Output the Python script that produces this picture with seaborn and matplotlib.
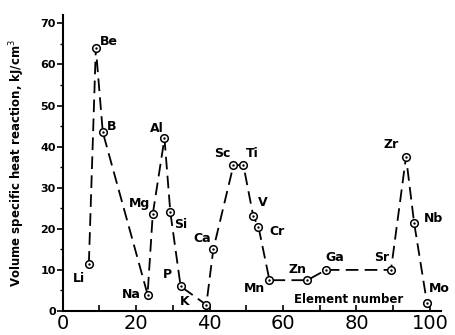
import matplotlib
matplotlib.use("Agg")
import matplotlib.pyplot as plt
import seaborn as sns
import pandas as pd

elements = ["Li", "Be", "B", "Na", "Mg", "Al", "Si", "P", "K", "Ca", "Sc", "Ti",
            "V", "Cr", "Mn", "Zn", "Ga", "Sr", "Zr", "Nb", "Mo"]
element_x = [7.1, 9.0, 10.9, 23.1, 24.5, 27.7, 29.3, 32.1, 39.1, 41.0, 46.5, 49.2,
             51.9, 53.3, 56.3, 66.6, 71.7, 89.4, 93.5, 95.7, 99.2]
heat = [11.5, 64.0, 43.5, 4.0, 23.5, 42.0, 24.0, 6.0, 1.5, 15.0, 35.5, 35.5,
        23.0, 20.5, 7.5, 7.5, 10.0, 10.0, 37.5, 21.5, 2.0]
x_ticks = [0, 20, 40, 60, 80, 100]
y_ticks = [0, 10, 20, 30, 40, 50, 60, 70]

# label offsets in pixels (style only)
label_offsets = {"Li": (-10, -15), "Be": (13, 6), "B": (9, 6), "Na": (-16, 0),
                 "Mg": (-13, 11), "Al": (-8, 10), "Si": (10, -12), "P": (-13, 12),
                 "K": (-22, 3), "Ca": (-11, 11), "Sc": (-11, 12), "Ti": (9, 12),
                 "V": (9, 14), "Cr": (19, -5), "Mn": (-15, -8), "Zn": (-10, 11),
                 "Ga": (9, 12), "Sr": (-9, 12), "Zr": (-15, 12), "Nb": (19, 4),
                 "Mo": (12, 14)}

df = pd.DataFrame({"element": elements, "x": element_x, "y": heat})

sns.set_style("ticks")
plt.rcParams['font.family'] = ['DejaVu Sans']
plt.rcParams['text.color'] = 'black'
plt.rcParams['xtick.color'] = 'black'
plt.rcParams['ytick.color'] = 'black'
plt.rcParams['axes.labelcolor'] = 'black'

fig = plt.figure(figsize=(4.55, 3.35), dpi=100)
ax = fig.add_axes([0.138, 0.0716, 0.831, 0.8834])

sns.lineplot(data=df, x="x", y="y", sort=False, color="black", linewidth=1.3,
             ax=ax, estimator=None)
ax.lines[0].set_dashes((7, 3.5))
sns.scatterplot(data=df, x="x", y="y", s=30, facecolor="white", edgecolor="black",
                linewidth=1.1, ax=ax, zorder=3)
sns.scatterplot(data=df, x="x", y="y", s=3, color="black", linewidth=0, ax=ax, zorder=4)

for name, xv, yv in zip(elements, element_x, heat):
    dx, dy = label_offsets[name]
    ax.annotate(name, (xv, yv), xytext=(dx, dy), textcoords="offset pixels",
                ha="center", va="center", fontsize=9, fontweight="bold", color="black")

ax.text(78, 2.8, "Element number", ha="center", va="center", fontsize=8.5,
        fontweight="bold", color="black")

ax.set_xlim(0, 103)
ax.set_ylim(0, 72)
ax.set_xticks(x_ticks)
ax.set_xticklabels([str(t) for t in x_ticks], fontsize=14)
ax.set_xticks([10, 30, 50, 70, 90], minor=True)
ax.set_yticks(y_ticks)
ax.set_yticklabels([str(t) for t in y_ticks], fontsize=8, fontweight="bold")
ax.set_yticks([5, 15, 25, 35, 45, 55, 65], minor=True)
ax.tick_params(axis="x", which="both", direction="in", length=4, width=1.2, pad=2)
ax.tick_params(axis="y", which="major", direction="out", length=4, width=1.2, pad=1)
ax.tick_params(axis="y", which="minor", direction="out", length=2, width=1)
ax.set_xlabel("")
ax.set_ylabel("Volume specific heat reaction, kJ/cm$^3$", fontsize=8.5,
              fontweight="bold")
ax.yaxis.set_label_coords(-0.095, 0.5)
for side in ["top", "right"]:
    ax.spines[side].set_visible(False)
for side in ["left", "bottom"]:
    ax.spines[side].set_linewidth(1.5)
    ax.spines[side].set_color("black")

fig.savefig("out.png", dpi=100)
